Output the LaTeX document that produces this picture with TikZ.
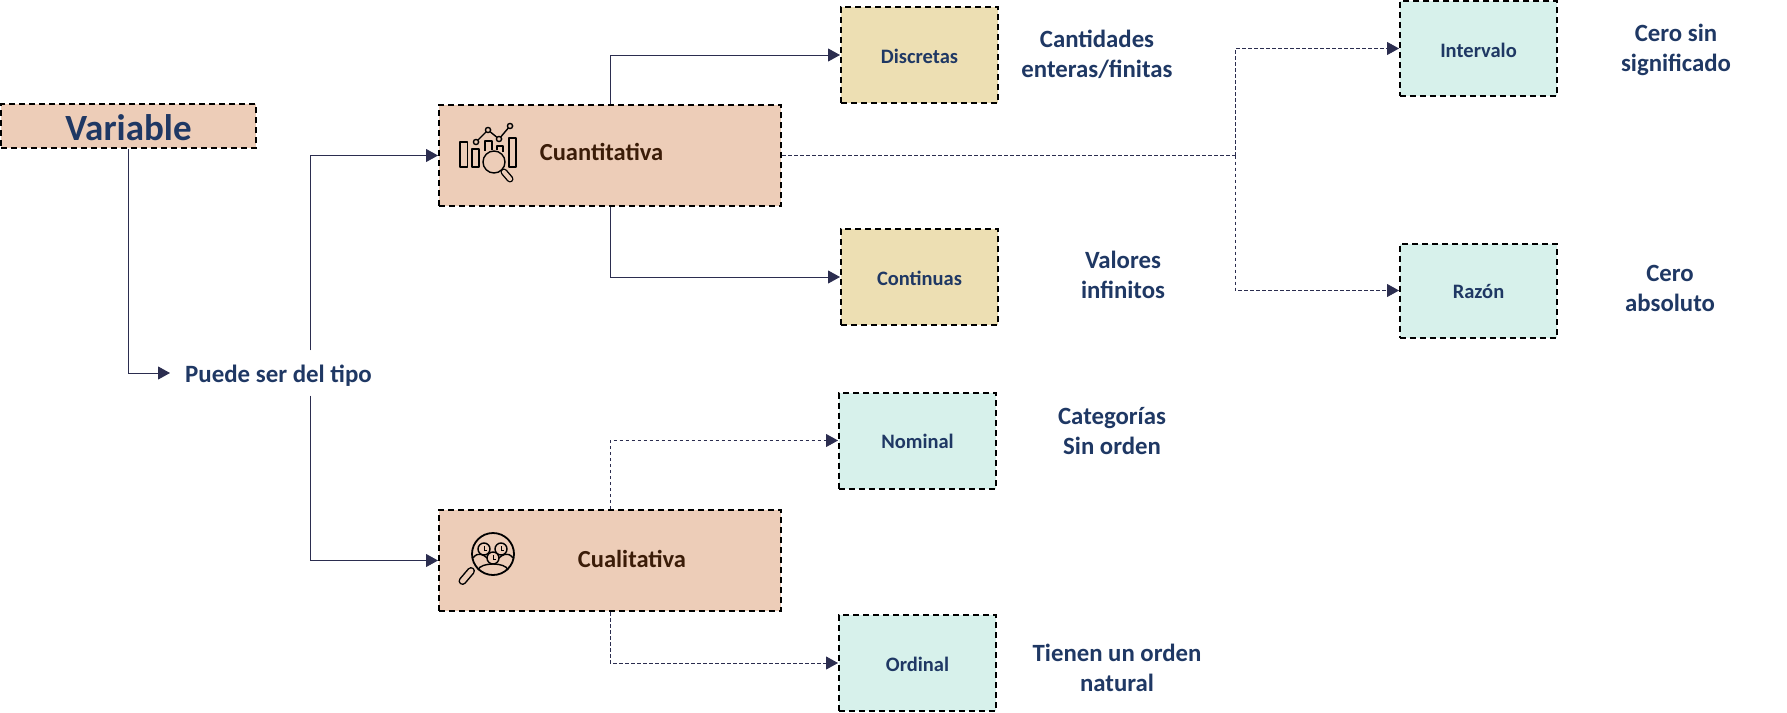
\documentclass[tikz,border=0pt]{standalone}
\usepackage{fontspec}
\setmainfont{Carlito}
\usetikzlibrary{arrows.meta}
\definecolor{navy}{HTML}{1F3864}
\definecolor{brownt}{HTML}{3B1C08}
\definecolor{peach}{HTML}{EDCDB8}
\definecolor{mint}{HTML}{D7F1EB}
\definecolor{sand}{HTML}{EDDFB3}
\definecolor{linec}{HTML}{2B2D4F}
\newcommand\lowered[2][1pt]{\raisebox{-#1}[\height][\depth]{#2}}
\tikzset{
  x=1pt,y=-1pt,
  dbox/.style={draw=black,line width=2pt,dash pattern=on 6pt off 4pt,inner sep=0pt,font=\bfseries\fontsize{20.5}{22}\selectfont,text=navy,minimum height=96pt,minimum width=157pt},
  big/.style={dbox,fill=peach,minimum width=342pt,minimum height=101pt},
  small/.style={dbox,fill=mint},
  yel/.style={dbox,fill=sand},
  note/.style={align=center,font=\bfseries\fontsize{24.8}{30}\selectfont,text=navy,inner sep=0pt},
  conn/.style={draw=linec,line width=0.9pt,-{Triangle[length=12pt,width=13pt]}},
  dconn/.style={conn,dash pattern=on 3.5pt off 2.5pt},
  ico/.style={draw=black,line width=1.4pt,line join=round},
}
\begin{document}
\begin{tikzpicture}
\useasboundingbox (0,0) rectangle (1787,712);
\node[dbox,fill=peach,minimum width=255pt,minimum height=44pt,font=\bfseries\fontsize{37}{40}\selectfont] (variable) at (128.5,126) {\lowered[2pt]{Variable}};
\node[big] (cuanti) at (610,155.5) {};
\node[big] (cuali) at (610,560.5) {};
\node[inner sep=0pt,font=\bfseries\fontsize{24.5}{26}\selectfont,text=brownt] (cuantil) at (601.5,151.5) {Cuantitativa};
\node[inner sep=0pt,font=\bfseries\fontsize{24.5}{26}\selectfont,text=brownt] (cualil) at (632,558.5) {Cualitativa};
\node[yel] (discretas) at (919.5,55) {\lowered{Discretas}};
\node[yel] (continuas) at (919.5,277) {\lowered{Continuas}};
\node[small] (nominal) at (917.5,440.5) {\lowered{Nominal}};
\node[small] (ordinal) at (917.5,663) {\lowered{Ordinal}};
\node[small,minimum height=95pt] (intervalo) at (1478.5,48.5) {\lowered[1.5pt]{Intervalo}};
\node[small,minimum height=94pt] (razon) at (1478.5,290.5) {\lowered{Razón}};
\node[inner sep=0pt,inner xsep=15pt,minimum height=45pt,font=\bfseries\fontsize{24.9}{26}\selectfont,text=navy] (puede) at (278.5,373) {\lowered[2.5pt]{Puede ser del tipo}};
\node[note] (n1) at (1097,54.5) {Cantidades\\enteras/finitas};
\node[note] (n2) at (1123,275) {Valores\\infinitos};
\node[note] (n3) at (1112,431.5) {Categorías\\Sin orden};
\node[note] (n4) at (1117,668) {Tienen un orden\\natural};
\node[note] (n5) at (1676,50) {Cero sin\\significado};
\node[note] (n6) at (1670,288.5) {Cero\\absoluto};
\coordinate (jn) at (1235,155.5);
% connectors
\draw[conn] (variable.south) |- (puede.west);
\draw[conn] ([xshift=31.5pt]puede.north) |- (cuanti.west);
\draw[conn] ([xshift=31.5pt]puede.south) |- (cuali.west);
\draw[conn] (cuanti.north) |- (discretas.west);
\draw[conn] (cuanti.south) |- (continuas.west);
\draw[dconn] (cuali.north) |- (nominal.west);
\draw[dconn] (cuali.south) |- (ordinal.west);
\draw[draw=linec,line width=1.4pt,dash pattern=on 4pt off 2pt] (cuanti.east) -- (jn);
\draw[dconn] (jn) |- (intervalo.west);
\draw[dconn] (jn) |- (razon.west);
% icon: chart with magnifier
\draw[ico] (460,142) rectangle (467.5,167);
\draw[ico] (472,149) rectangle (479,167);
\draw[ico] (485,151) -- (485,141) -- (492,141) -- (492,150);
\draw[ico] (497,150) -- (497,146) -- (503,146) -- (503,152);
\draw[ico] (509,138) rectangle (516,167);
\draw[ico] (476,142) -- (488,130) -- (499,139) -- (510,126);
\foreach \p in {(476,142),(488,130),(499,139),(510,126)}
  \draw[ico,fill=peach] \p circle (2.6);
\draw[ico,fill=peach] (494,162) circle (11);
\draw[black,line width=7pt,line cap=round] (504,172) -- (510,179);
\draw[peach,line width=4.2pt,line cap=round] (504,172) -- (510,179);
% icon: people in magnifier
\draw[black,line width=8pt,line cap=round] (471,571) -- (462.5,581);
\draw[peach,line width=5pt,line cap=round] (471,571) -- (462.5,581);
\draw[ico,fill=peach,line width=1.8pt] (493,554) circle (21);
\draw[ico] (473,558) .. controls (478,551) and (484,555) .. (487,558);
\draw[ico] (513,558) .. controls (508,551) and (502,555) .. (499,558);
\draw[ico] (478,570) .. controls (480,562) and (506,562) .. (508,570);
\foreach \p in {(484,549),(501,549),(493,558)}
  \draw[ico,fill=peach] \p circle (6);
\draw[black,line width=0.9pt] (484,546) -- (484,550) -- (487,550);
\draw[black,line width=0.9pt] (501,546) -- (501,550) -- (504,550);
\draw[black,line width=0.9pt] (493,555) -- (493,559) -- (496,559);
\end{tikzpicture}
\end{document}
